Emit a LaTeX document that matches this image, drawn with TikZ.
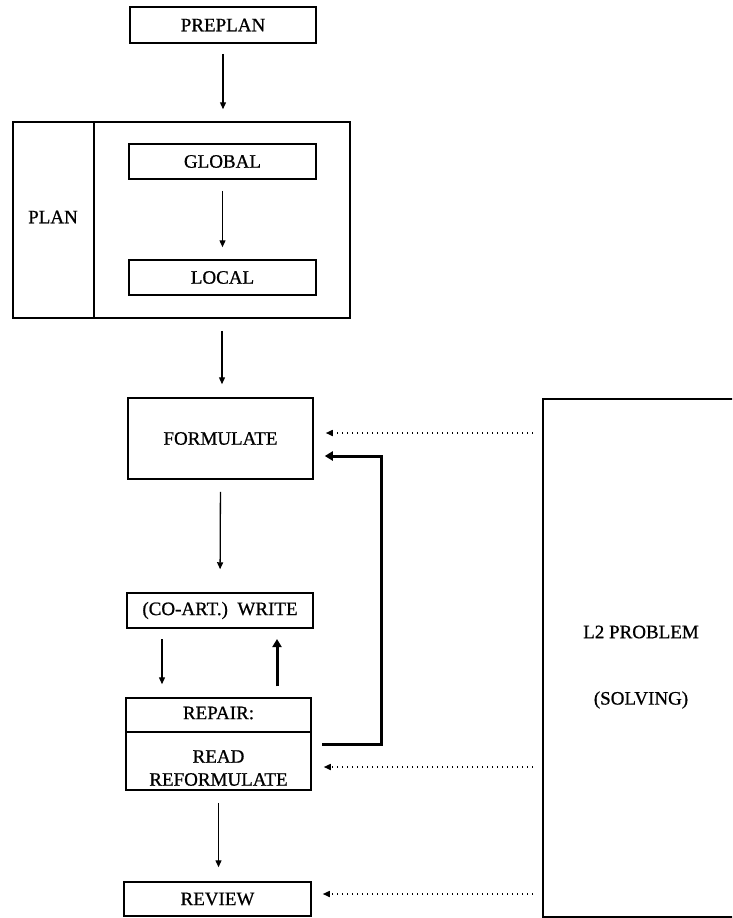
\documentclass[tikz,border=0pt]{standalone}
\usepackage{fontspec}
\setmainfont{Liberation Serif}[BoldFont=Liberation Serif,BoldFeatures={FakeBold=0.8}]
\usetikzlibrary{arrows.meta}
\begin{document}
\begin{tikzpicture}[x=1pt,y=-1pt,
  box/.style={draw,line width=1.5pt,rectangle,inner sep=0pt,font=\fontsize{19}{23}\selectfont\bfseries,align=center},
  lbl/.style={inner sep=0pt,font=\fontsize{19}{23}\selectfont\bfseries,align=center},
  arr/.style={line width=1.3pt,-{Triangle[length=7pt,width=6pt]}},
  thk/.style={line width=3pt,-{Triangle[length=8pt,width=9pt]}},
  dot/.style={line width=1.5pt,dash pattern=on 1.5pt off 3.5pt,-{Triangle[length=7pt,width=6pt]}}]
\useasboundingbox (0,0) rectangle (732,918);
\begin{scope}
\clip (0,0) rectangle (732,918);
% L2 box (extends beyond right edge)
\node[box,minimum width=198pt,minimum height=518pt,anchor=north west] (l2) at (542,398) {};
\end{scope}
\node[lbl] (l2a) at (641,632) {L2 PROBLEM};
\node[lbl] (l2b) at (641,700) {(SOLVING)};

\node[box,minimum width=186pt,minimum height=36pt] (preplan) at (223,25) {PREPLAN};
\node[box,minimum width=337pt,minimum height=196pt] (plan) at (181.5,220) {};
\coordinate (divt) at (94,122);
\coordinate (divb) at (94,318);
\draw[line width=1.5pt] (divt) -- (divb);
\node[lbl] (planlbl) at (53,217) {PLAN};
\node[box,minimum width=187pt,minimum height=35pt] (global) at (222.5,161.5) {GLOBAL};
\node[box,minimum width=187pt,minimum height=35pt] (local) at (222.5,277.5) {LOCAL};
\node[box,minimum width=185pt,minimum height=81pt] (formulate) at (220.5,438.5) {FORMULATE};
\node[box,minimum width=186pt,minimum height=35pt] (write) at (220,610.5) {(CO-ART.)\ \ WRITE};
\node[box,minimum width=185pt,minimum height=92pt] (repair) at (218.5,744) {};
\coordinate (rdl) at (126,732);
\coordinate (rdr) at (311,732);
\draw[line width=1.5pt] (rdl) -- (rdr);
\node[lbl] (repairlbl) at (218.5,713) {REPAIR:};
\node[lbl] (readlbl) at (218.5,768) {READ\\REFORMULATE};
\node[box,minimum width=187pt,minimum height=34pt] (review) at (217.5,899) {REVIEW};

% solid arrows
\draw[arr,shorten <=10pt,shorten >=12pt] (preplan.south) -- (preplan.south |- plan.north);
\draw[arr,shorten <=11pt,shorten >=12pt] (global) -- (local);
\draw[arr,shorten <=12pt,shorten >=13pt] (plan.south -| formulate.north) ++(1.5,0) coordinate (pf) -- (pf |- formulate.north);
\draw[arr,shorten <=12pt,shorten >=23pt] (formulate.south) -- (write.north);
\coordinate (wl) at (162,628);
\draw[arr,shorten <=11pt,shorten >=13pt] (wl) -- (wl |- repair.north);
\coordinate (wr) at (277,628);
\draw[thk,shorten <=11pt,shorten >=11pt] (wr |- repair.north) -- (wr);
\draw[arr,shorten <=12pt,shorten >=14pt] (repair.south) -- (repair.south |- review.north);

% thick feedback arrow
\coordinate (fb1) at (322,744);
\coordinate (fb2) at (381,744);
\coordinate (fb3) at (381,456);
\draw[thk,shorten >=11pt] (fb1) -- (fb2) -- (fb3) -- (fb3 -| formulate.east);

% dotted arrows
\draw[dot,shorten <=9pt,shorten >=12pt] (l2.west |- 0,433) -- (formulate.east |- 0,433);
\draw[dot,shorten <=9pt,shorten >=12pt] (l2.west |- 0,767) -- (repair.east |- 0,767);
\draw[dot,shorten <=9pt,shorten >=11pt] (l2.west |- 0,894) -- (review.east |- 0,894);
\end{tikzpicture}
\end{document}
